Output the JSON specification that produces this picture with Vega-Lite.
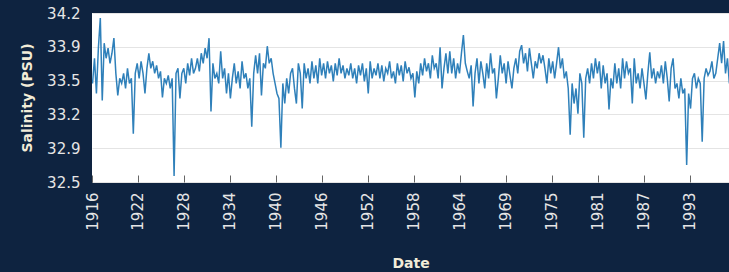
{
  "$schema": "https://vega.github.io/schema/vega-lite/v6.json",
  "width": 637,
  "height": 169,
  "autosize": {"type": "none"},
  "padding": {"left": 92, "top": 13, "right": 0, "bottom": 90},
  "background": "#0e2340",
  "config": {
    "view": {"fill": "#ffffff", "stroke": null},
    "font": "DejaVu Sans"
  },
  "data": {"values": [
    {"t":1916.75,"s":33.5},{"t":1917.0,"s":33.75},{"t":1917.25,"s":33.4},{"t":1917.5,"s":33.85},{"t":1917.75,"s":34.15},
    {"t":1918.0,"s":33.33},{"t":1918.25,"s":33.9},{"t":1918.5,"s":33.75},{"t":1918.75,"s":33.85},
    {"t":1919.0,"s":33.7},{"t":1919.25,"s":33.8},{"t":1919.5,"s":33.95},{"t":1919.75,"s":33.6},
    {"t":1920.0,"s":33.38},{"t":1920.25,"s":33.55},{"t":1920.5,"s":33.5},{"t":1920.75,"s":33.6},
    {"t":1921.0,"s":33.45},{"t":1921.25,"s":33.65},{"t":1921.5,"s":33.5},{"t":1921.75,"s":33.55},
    {"t":1922.0,"s":33.0},{"t":1922.25,"s":33.6},{"t":1922.5,"s":33.7},{"t":1922.75,"s":33.55},
    {"t":1923.0,"s":33.72},{"t":1923.25,"s":33.6},{"t":1923.5,"s":33.4},{"t":1923.75,"s":33.65},
    {"t":1924.0,"s":33.8},{"t":1924.25,"s":33.65},{"t":1924.5,"s":33.72},{"t":1924.75,"s":33.6},
    {"t":1925.0,"s":33.68},{"t":1925.25,"s":33.55},{"t":1925.5,"s":33.62},{"t":1925.75,"s":33.36},
    {"t":1926.0,"s":33.55},{"t":1926.25,"s":33.5},{"t":1926.5,"s":33.58},{"t":1926.75,"s":33.45},
    {"t":1927.0,"s":33.55},{"t":1927.25,"s":32.58},{"t":1927.5,"s":33.6},{"t":1927.75,"s":33.65},
    {"t":1928.0,"s":33.35},{"t":1928.25,"s":33.6},{"t":1928.5,"s":33.65},{"t":1928.75,"s":33.5},
    {"t":1929.0,"s":33.7},{"t":1929.25,"s":33.58},{"t":1929.5,"s":33.75},{"t":1929.75,"s":33.6},
    {"t":1930.0,"s":33.65},{"t":1930.25,"s":33.75},{"t":1930.5,"s":33.62},{"t":1930.75,"s":33.8},
    {"t":1931.0,"s":33.7},{"t":1931.25,"s":33.85},{"t":1931.5,"s":33.75},{"t":1931.75,"s":33.95},
    {"t":1932.0,"s":33.22},{"t":1932.25,"s":33.7},{"t":1932.5,"s":33.55},{"t":1932.75,"s":33.6},
    {"t":1933.0,"s":33.5},{"t":1933.25,"s":33.82},{"t":1933.5,"s":33.55},{"t":1933.75,"s":33.65},
    {"t":1934.0,"s":33.4},{"t":1934.25,"s":33.6},{"t":1934.5,"s":33.35},{"t":1934.75,"s":33.55},
    {"t":1935.0,"s":33.7},{"t":1935.25,"s":33.5},{"t":1935.5,"s":33.62},{"t":1935.75,"s":33.45},
    {"t":1936.0,"s":33.72},{"t":1936.25,"s":33.55},{"t":1936.5,"s":33.6},{"t":1936.75,"s":33.45},
    {"t":1937.0,"s":33.55},{"t":1937.25,"s":33.07},{"t":1937.5,"s":33.6},{"t":1937.75,"s":33.78},
    {"t":1938.0,"s":33.6},{"t":1938.25,"s":33.8},{"t":1938.5,"s":33.38},{"t":1938.75,"s":33.7},
    {"t":1939.0,"s":33.65},{"t":1939.25,"s":33.87},{"t":1939.5,"s":33.7},{"t":1939.75,"s":33.75},
    {"t":1940.0,"s":33.6},{"t":1940.25,"s":33.5},{"t":1940.5,"s":33.4},{"t":1940.75,"s":33.35},
    {"t":1941.0,"s":32.86},{"t":1941.25,"s":33.5},{"t":1941.5,"s":33.3},{"t":1941.75,"s":33.55},
    {"t":1942.0,"s":33.4},{"t":1942.25,"s":33.6},{"t":1942.5,"s":33.65},{"t":1942.75,"s":33.45},
    {"t":1943.0,"s":33.3},{"t":1943.25,"s":33.7},{"t":1943.5,"s":33.6},{"t":1943.75,"s":33.25},
    {"t":1944.0,"s":33.7},{"t":1944.25,"s":33.55},{"t":1944.5,"s":33.65},{"t":1944.75,"s":33.5},
    {"t":1945.0,"s":33.72},{"t":1945.25,"s":33.55},{"t":1945.5,"s":33.68},{"t":1945.75,"s":33.5},
    {"t":1946.0,"s":33.75},{"t":1946.25,"s":33.58},{"t":1946.5,"s":33.7},{"t":1946.75,"s":33.55},
    {"t":1947.0,"s":33.72},{"t":1947.25,"s":33.6},{"t":1947.5,"s":33.68},{"t":1947.75,"s":33.52},
    {"t":1948.0,"s":33.7},{"t":1948.25,"s":33.58},{"t":1948.5,"s":33.75},{"t":1948.75,"s":33.6},
    {"t":1949.0,"s":33.68},{"t":1949.25,"s":33.55},{"t":1949.5,"s":33.65},{"t":1949.75,"s":33.58},
    {"t":1950.0,"s":33.7},{"t":1950.25,"s":33.55},{"t":1950.5,"s":33.65},{"t":1950.75,"s":33.5},
    {"t":1951.0,"s":33.68},{"t":1951.25,"s":33.58},{"t":1951.5,"s":33.7},{"t":1951.75,"s":33.52},
    {"t":1952.0,"s":33.65},{"t":1952.25,"s":33.4},{"t":1952.5,"s":33.72},{"t":1952.75,"s":33.55},
    {"t":1953.0,"s":33.65},{"t":1953.25,"s":33.58},{"t":1953.5,"s":33.7},{"t":1953.75,"s":33.55},
    {"t":1954.0,"s":33.68},{"t":1954.25,"s":33.52},{"t":1954.5,"s":33.65},{"t":1954.75,"s":33.6},
    {"t":1955.0,"s":33.72},{"t":1955.25,"s":33.55},{"t":1955.5,"s":33.62},{"t":1955.75,"s":33.5},
    {"t":1956.0,"s":33.7},{"t":1956.25,"s":33.58},{"t":1956.5,"s":33.68},{"t":1956.75,"s":33.52},
    {"t":1957.0,"s":33.72},{"t":1957.25,"s":33.6},{"t":1957.5,"s":33.66},{"t":1957.75,"s":33.55},
    {"t":1958.0,"s":33.6},{"t":1958.25,"s":33.36},{"t":1958.5,"s":33.62},{"t":1958.75,"s":33.5},
    {"t":1959.0,"s":33.7},{"t":1959.25,"s":33.58},{"t":1959.5,"s":33.75},{"t":1959.75,"s":33.62},
    {"t":1960.0,"s":33.7},{"t":1960.25,"s":33.55},{"t":1960.5,"s":33.78},{"t":1960.75,"s":33.65},
    {"t":1961.0,"s":33.7},{"t":1961.25,"s":33.55},{"t":1961.5,"s":33.86},{"t":1961.75,"s":33.45},
    {"t":1962.0,"s":33.65},{"t":1962.25,"s":33.8},{"t":1962.5,"s":33.6},{"t":1962.75,"s":33.82},
    {"t":1963.0,"s":33.6},{"t":1963.25,"s":33.75},{"t":1963.5,"s":33.55},{"t":1963.75,"s":33.7},
    {"t":1964.0,"s":33.6},{"t":1964.25,"s":33.8},{"t":1964.5,"s":33.98},{"t":1964.75,"s":33.7},
    {"t":1965.0,"s":33.62},{"t":1965.25,"s":33.55},{"t":1965.5,"s":33.68},{"t":1965.75,"s":33.27},
    {"t":1966.0,"s":33.6},{"t":1966.25,"s":33.75},{"t":1966.5,"s":33.5},{"t":1966.75,"s":33.72},
    {"t":1967.0,"s":33.6},{"t":1967.25,"s":33.45},{"t":1967.5,"s":33.7},{"t":1967.75,"s":33.55},
    {"t":1968.0,"s":33.8},{"t":1968.25,"s":33.6},{"t":1968.5,"s":33.65},{"t":1968.75,"s":33.35},
    {"t":1969.0,"s":33.55},{"t":1969.25,"s":33.78},{"t":1969.5,"s":33.6},{"t":1969.75,"s":33.7},
    {"t":1970.0,"s":33.5},{"t":1970.25,"s":33.72},{"t":1970.5,"s":33.58},{"t":1970.75,"s":33.45},
    {"t":1971.0,"s":33.65},{"t":1971.25,"s":33.75},{"t":1971.5,"s":33.6},{"t":1971.75,"s":33.82},
    {"t":1972.0,"s":33.88},{"t":1972.25,"s":33.7},{"t":1972.5,"s":33.8},{"t":1972.75,"s":33.62},
    {"t":1973.0,"s":33.85},{"t":1973.25,"s":33.7},{"t":1973.5,"s":33.55},{"t":1973.75,"s":33.72},
    {"t":1974.0,"s":33.65},{"t":1974.25,"s":33.8},{"t":1974.5,"s":33.7},{"t":1974.75,"s":33.78},
    {"t":1975.0,"s":33.65},{"t":1975.25,"s":33.5},{"t":1975.5,"s":33.75},{"t":1975.75,"s":33.6},
    {"t":1976.0,"s":33.72},{"t":1976.25,"s":33.55},{"t":1976.5,"s":33.7},{"t":1976.75,"s":33.86},
    {"t":1977.0,"s":33.65},{"t":1977.25,"s":33.75},{"t":1977.5,"s":33.55},{"t":1977.75,"s":33.62},
    {"t":1978.0,"s":33.45},{"t":1978.25,"s":32.99},{"t":1978.5,"s":33.5},{"t":1978.75,"s":33.3},
    {"t":1979.0,"s":33.45},{"t":1979.25,"s":33.2},{"t":1979.5,"s":33.6},{"t":1979.75,"s":33.5},
    {"t":1980.0,"s":32.96},{"t":1980.25,"s":33.55},{"t":1980.5,"s":33.65},{"t":1980.75,"s":33.5},
    {"t":1981.0,"s":33.7},{"t":1981.25,"s":33.55},{"t":1981.5,"s":33.75},{"t":1981.75,"s":33.6},
    {"t":1982.0,"s":33.72},{"t":1982.25,"s":33.45},{"t":1982.5,"s":33.68},{"t":1982.75,"s":33.5},
    {"t":1983.0,"s":33.6},{"t":1983.25,"s":33.24},{"t":1983.5,"s":33.55},{"t":1983.75,"s":33.45},
    {"t":1984.0,"s":33.7},{"t":1984.25,"s":33.5},{"t":1984.5,"s":33.65},{"t":1984.75,"s":33.45},
    {"t":1985.0,"s":33.75},{"t":1985.25,"s":33.55},{"t":1985.5,"s":33.72},{"t":1985.75,"s":33.6},
    {"t":1986.0,"s":33.65},{"t":1986.25,"s":33.3},{"t":1986.5,"s":33.75},{"t":1986.75,"s":33.5},
    {"t":1987.0,"s":33.6},{"t":1987.25,"s":33.45},{"t":1987.5,"s":33.65},{"t":1987.75,"s":33.5},
    {"t":1988.0,"s":33.34},{"t":1988.25,"s":33.6},{"t":1988.5,"s":33.81},{"t":1988.75,"s":33.55},
    {"t":1989.0,"s":33.65},{"t":1989.25,"s":33.5},{"t":1989.5,"s":33.62},{"t":1989.75,"s":33.55},
    {"t":1990.0,"s":33.68},{"t":1990.25,"s":33.5},{"t":1990.5,"s":33.72},{"t":1990.75,"s":33.55},
    {"t":1991.0,"s":33.32},{"t":1991.25,"s":33.65},{"t":1991.5,"s":33.75},{"t":1991.75,"s":33.45},
    {"t":1992.0,"s":33.5},{"t":1992.25,"s":33.35},{"t":1992.5,"s":33.55},{"t":1992.75,"s":33.4},
    {"t":1993.0,"s":33.45},{"t":1993.25,"s":32.69},{"t":1993.5,"s":33.4},{"t":1993.75,"s":33.25},
    {"t":1994.0,"s":33.55},{"t":1994.25,"s":33.6},{"t":1994.5,"s":33.45},{"t":1994.75,"s":33.55},
    {"t":1995.0,"s":33.5},{"t":1995.25,"s":32.92},{"t":1995.5,"s":33.55},{"t":1995.75,"s":33.65},
    {"t":1996.0,"s":33.58},{"t":1996.25,"s":33.62},{"t":1996.5,"s":33.72},{"t":1996.75,"s":33.55},
    {"t":1997.0,"s":33.6},{"t":1997.25,"s":33.75},{"t":1997.5,"s":33.9},{"t":1997.75,"s":33.7},
    {"t":1998.0,"s":33.92},{"t":1998.25,"s":33.6},{"t":1998.5,"s":33.75},{"t":1998.75,"s":33.5}
  ]},
  "mark": {"type": "line", "color": "#2f80ba", "strokeWidth": 1.5, "clip": true},
  "encoding": {
    "x": {
      "field": "t", "type": "quantitative",
      "scale": {"domain": [1916.68, 1998.7], "nice": false, "zero": false},
      "axis": {
        "title": "Date",
        "values": [1916.68, 1922.6, 1928.52, 1934.44, 1940.36, 1946.28, 1952.2, 1958.12, 1964.04, 1969.96, 1975.88, 1981.8, 1987.72, 1993.64],
        "labelExpr": "floor(datum.value)",
        "labelAngle": -90,
        "labelAlign": "right",
        "labelBaseline": "middle",
        "labelColor": "#e6e6e6",
        "labelFontSize": 15,
        "labelPadding": 17,
        "grid": false,
        "domain": false,
        "ticks": true,
        "tickSize": -7,
        "tickColor": "#666666",
        "titleColor": "#f2ecd8",
        "titleFontSize": 14,
        "titleFontWeight": "bold",
        "titlePadding": 26
      }
    },
    "y": {
      "field": "s", "type": "quantitative",
      "scale": {"domain": [32.52, 34.2], "nice": false, "zero": false},
      "axis": {
        "title": "Salinity (PSU)",
        "values": [32.52, 32.856, 33.192, 33.528, 33.864, 34.2],
        "format": ".1f",
        "labelColor": "#e6e6e6",
        "labelFontSize": 15,
        "labelPadding": 12,
        "ticks": false,
        "domain": false,
        "grid": true,
        "gridColor": "#e4e4e4",
        "titleColor": "#f2ecd8",
        "titleFontSize": 14,
        "titleFontWeight": "bold",
        "titlePadding": 12
      }
    }
  }
}
